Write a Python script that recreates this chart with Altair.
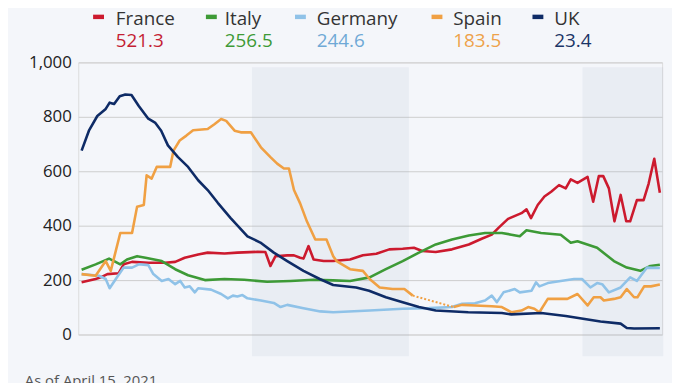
import altair as alt
import pandas as pd

countries = ["France", "Italy", "Germany", "Spain", "UK"]
latest = ["521.3", "256.5", "244.6", "183.5", "23.4"]
line_colors = ["#cc1a2e", "#3d9a36", "#8fc2e8", "#f0a043", "#0e2b66"]
value_colors = ["#c41e34", "#3d9a36", "#6fa9d6", "#eea24a", "#1b3466"]

# day = days since Jan 1, 2021
france_day = [0.6, 3.1, 4.0, 5.2, 7.2, 8.1, 9.6, 12.5, 15.5, 17.3, 19.0, 21.4, 23.1, 26.1, 28.4, 32.0, 33.4,
              34.3, 35.2, 37.3, 38.5, 39.6, 40.2, 41.1, 42.0, 43.8, 45.5, 48.5, 50.8, 53.2, 55.5, 57.9, 59.9,
              61.4, 63.8, 66.7, 69.7, 72.0, 73.8, 75.0, 76.7, 79.1, 80.0, 80.8, 82.0, 83.2, 84.4, 85.8, 87.0,
              87.9, 89.1, 90.9, 91.9, 92.9, 93.7, 94.7, 95.7, 96.8, 97.8, 98.5, 99.7, 100.9, 101.8, 102.8, 103.8]
france_val = [192, 204, 210, 222, 225, 258, 267, 264, 264, 267, 282, 294, 301, 298, 301, 304, 303,
              252, 288, 291, 291, 282, 279, 325, 276, 270, 270, 276, 291, 297, 313, 315, 319,
              307, 303, 313, 331, 352, 367, 392, 425, 446, 460, 428, 476, 507, 525, 549, 537,
              570, 557, 579, 488, 582, 582, 537, 416, 513, 416, 416, 494, 494, 555, 646, 521.3]

italy_day = [0.6, 3.1, 5.5, 6.4, 7.5, 8.7, 10.5, 12.0, 14.9, 17.3, 19.6, 22.6, 26.1, 29.6, 33.7, 37.9, 42.0,
             45.5, 48.5, 52.0, 54.9, 57.9, 60.8, 63.8, 66.7, 69.7, 72.6, 75.6, 77.3, 78.8, 80.0, 82.6, 86.1,
             87.9, 89.1, 92.6, 95.6, 97.9, 100.3, 102.1, 103.8]
italy_val = [238, 258, 279, 270, 258, 276, 288, 282, 270, 240, 218, 200, 204, 201, 194, 197, 201,
             199, 197, 210, 240, 270, 301, 331, 349, 364, 373, 373, 367, 361, 383, 373, 367,
             337, 343, 319, 270, 246, 234, 252, 256.5]

germany_day = [0.6, 3.7, 4.9, 5.6, 6.7, 8.1, 9.6, 10.8, 12.5, 13.4, 14.9, 16.1, 17.3, 18.2, 19.0, 19.9, 20.8,
               21.4, 23.7, 25.5, 26.7, 27.6, 28.4, 29.3, 30.2, 32.6, 34.9, 36.1, 37.3, 40.2, 43.2, 45.5, 52.0,
               57.9, 62.6, 66.7, 68.5, 70.8, 72.6, 73.8, 74.7, 75.9, 77.9, 78.8, 80.9, 81.7, 82.3, 83.8, 86.1,
               88.5, 89.9, 91.4, 92.6, 93.5, 94.7, 96.8, 98.5, 99.7, 101.5, 103.8]
germany_val = [222, 216, 204, 170, 204, 246, 246, 258, 255, 222, 197, 204, 185, 197, 173, 177, 155,
               170, 165, 149, 133, 143, 140, 145, 133, 125, 116, 101, 109, 97, 85, 82, 88,
               95, 97, 101, 113, 115, 125, 143, 119, 155, 167, 155, 161, 192, 177, 189, 197,
               204, 204, 173, 189, 185, 155, 173, 210, 197, 246, 244.6]

spain_day = [0.6, 3.1, 4.9, 5.8, 7.5, 9.6, 10.5, 11.7, 12.2, 13.1, 14.0, 16.4, 17.0, 18.1, 19.3, 20.5, 23.1,
             24.3, 25.5, 26.4, 27.9, 29.0, 30.8, 32.6, 34.3, 35.5, 36.7, 37.6, 38.5, 39.6, 40.8, 42.3, 44.3,
             45.5, 46.1, 48.5, 50.8, 52.0, 53.8, 56.1, 58.2, 59.7,
             67.0, 68.5, 70.8, 73.8, 75.6, 77.3, 79.1, 80.3, 81.4, 82.3, 83.8, 87.3, 89.1, 90.9, 92.0, 93.2,
             93.8, 95.6, 96.8, 97.9, 99.2, 99.8, 101.0, 102.2, 103.8]
spain_val = [222, 216, 270, 234, 373, 373, 470, 476, 585, 573, 616, 616, 676, 713, 731, 751, 755,
             773, 792, 785, 749, 743, 743, 688, 652, 628, 610, 610, 531, 482, 416, 349, 349,
             288, 270, 240, 234, 204, 173, 167, 167, 143,
             101, 109, 107, 104, 101, 82, 88, 101, 95, 82, 131, 131, 149, 107, 137, 137,
             125, 131, 137, 167, 137, 137, 177, 177, 183.5]
spain_gap = (59.7, 67.0)  # days with no reported data, drawn dotted

uk_day = [0.6, 1.9, 3.4, 4.9, 5.6, 6.4, 7.4, 8.4, 9.5, 10.8, 12.5, 13.7, 14.8, 16.0, 17.8, 19.6, 21.4,
          23.1, 24.9, 27.2, 30.2, 32.5, 34.9, 37.3, 40.2, 43.1, 45.5, 49.6, 51.9, 54.9, 57.9, 60.8, 63.8,
          69.6, 75.6, 77.3, 82.6, 87.0, 93.2, 96.8, 97.9, 99.2, 103.8]
uk_val = [676, 749, 803, 829, 852, 847, 876, 882, 880, 840, 793, 779, 749, 695, 652, 616, 567,
          531, 484, 428, 361, 338, 301, 270, 234, 204, 182, 173, 161, 137, 119, 101, 88,
          82, 79, 74, 79, 68, 48, 40, 24, 22, 23.4]

month_names = ["Jan", "Feb", "Mar", "Apr"]
month_label_days = [14.3, 44.9, 74.4, 97.3]
shaded_months = [(31, 59), (90, 104.4)]  # February, April
footnote = "As of April 15, 2021"

# ---------- build tables ----------
rows = []
series = {"France": (france_day, france_val), "Italy": (italy_day, italy_val),
          "Germany": (germany_day, germany_val), "Spain": (spain_day, spain_val),
          "UK": (uk_day, uk_val)}
for c, (ds, vs) in series.items():
    for d, v in zip(ds, vs):
        seg = c
        if c == "Spain" and d >= spain_gap[1]:
            seg = "Spain2"
        rows.append({"country": c, "day": d, "value": v, "seg": seg})
df = pd.DataFrame(rows)

gap_df = df[(df.country == "Spain") & (df.day.isin(list(spain_gap)))]
band_df = pd.DataFrame(shaded_months, columns=["start", "end"])

# legend layout (pixel positions relative to plot area)
legend_marker_x = [15, 129, 219, 357, 459]
legend_text_x = [38, 148, 241, 379, 481]
leg_df = pd.DataFrame({"country": countries, "latest": latest, "mx": legend_marker_x,
                       "mx2": [m + 11 for m in legend_marker_x], "tx": legend_text_x,
                       "vcolor": value_colors})

FONT = "Open Sans"
W, H = 590, 275

xscale = alt.Scale(domain=[0, 104.2], nice=False, zero=False)
label_expr = ("datum.value < 30 ? '%s' : datum.value < 59 ? '%s' : datum.value < 90 ? '%s' : '%s'"
              % tuple(month_names))

bands = alt.Chart(band_df).mark_rect(color="#9aa9c6", opacity=0.12).encode(
    x=alt.X("start:Q", scale=xscale, axis=None),
    x2="end:Q",
    y=alt.value(5),
    y2=alt.value(297),
)

lines = alt.Chart(df).mark_line(strokeWidth=2.6, strokeJoin="round").encode(
    x=alt.X("day:Q", scale=xscale,
            axis=alt.Axis(values=month_label_days, labelExpr=label_expr, grid=False, ticks=False,
                          domainColor="#6e6e6e", domainWidth=2, labelFontSize=17, labelPadding=5,
                          labelColor="#222", labelFlush=False, title=None, labelFont=FONT)),
    y=alt.Y("value:Q", scale=alt.Scale(domain=[0, 1000], nice=False),
            axis=alt.Axis(values=[0, 200, 400, 600, 800, 1000], format=",.0f", ticks=False, domain=False,
                          labelPadding=7, labelFontSize=17, labelColor="#222", gridColor="#cdcdcd",
                          gridWidth=1, title=None, labelFont=FONT)),
    color=alt.Color("country:N", scale=alt.Scale(domain=countries, range=line_colors), legend=None),
    detail="seg:N",
)

dotted = alt.Chart(gap_df).mark_line(strokeWidth=2, strokeDash=[2, 2], color="#f0a043").encode(
    x=alt.X("day:Q", scale=xscale),
    y=alt.Y("value:Q"),
)

markers = alt.Chart(leg_df).mark_rule(strokeWidth=4.5).encode(
    x=alt.X("mx:Q", scale=None),
    x2="mx2:Q",
    y=alt.value(-46),
    color=alt.Color("country:N", scale=alt.Scale(domain=countries, range=line_colors), legend=None),
)

names = alt.Chart(leg_df).mark_text(align="left", baseline="alphabetic", fontSize=19, font=FONT,
                                    color="#333333").encode(
    x=alt.X("tx:Q", scale=None),
    y=alt.value(-38),
    text="country:N",
)

values = alt.Chart(leg_df).mark_text(align="left", baseline="alphabetic", fontSize=19, font=FONT).encode(
    x=alt.X("tx:Q", scale=None),
    y=alt.value(-16),
    text="latest:N",
    color=alt.Color("vcolor:N", scale=None),
)

foot = alt.Chart(pd.DataFrame({"t": [footnote]})).mark_text(
    align="left", baseline="alphabetic", fontSize=15, font=FONT, color="#555555").encode(
    x=alt.value(-54),
    y=alt.value(327),
    text="t:N",
)

chart = alt.layer(bands, lines, dotted, markers, names, values, foot).properties(
    width=W, height=H,
    autosize=alt.AutoSizeParams(type="none"),
    padding={"left": 71, "top": 53, "right": 10, "bottom": 47},
    background="#f4f6fa",
).configure_view(stroke=None).configure(font=FONT)

chart.save("out.html", embed_options={"renderer": "svg", "actions": False})
